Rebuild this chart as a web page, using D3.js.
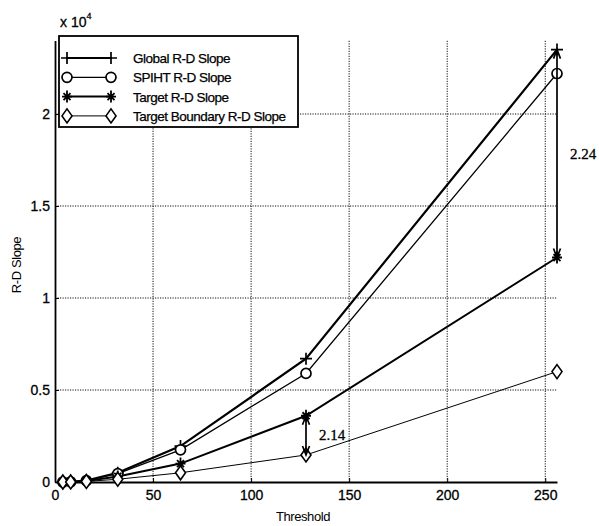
<!DOCTYPE html>
<html>
<head>
<meta charset="utf-8">
<script src="https://cdn.jsdelivr.net/npm/d3@7"></script>
<style>
  body { margin: 0; background: #fff; }
  svg { display: block; font-family: "Liberation Sans", Arial, sans-serif; }
</style>
</head>
<body>
<div id="chart"></div>
<script>
// thresholds (x) and the four R-D slope series (raw values, axis shows x 10^4)
const thresholds = [4, 8, 16, 32, 64, 128, 256];
const globalSlope = [0, 5, 80, 500, 1950, 6700, 23500];
const spihtSlope = [0, 5, 70, 450, 1750, 5900, 22200];
const targetSlope = [0, 3, 50, 300, 1000, 3600, 12200];
const boundarySlope = [0, 2, 30, 150, 500, 1470, 6000];

const xTicks = [0, 50, 100, 150, 200, 250];
const yTicks = [0, 5000, 10000, 15000, 20000];
const yTickLabels = ["0", "0.5", "1", "1.5", "2"];

const seriesNames = ["Global R-D Slope", "SPIHT R-D Slope", "Target R-D Slope", "Target Boundary R-D Slope"];
const seriesValues = [globalSlope, spihtSlope, targetSlope, boundarySlope];
const seriesMarkers = ["plus", "circle", "star", "diamond"];
const seriesWidths = [2.2, 1.3, 2, 1];

// ratio annotations: [threshold, upper series index, lower series index, label]
const annotations = [[128, 2, 3, "2.14"], [256, 0, 2, "2.24"]];

const width = 599, height = 526;
const svg = d3.select("#chart").append("svg")
  .attr("width", width)
  .attr("height", height);

const x = d3.scaleLinear().domain([0, 256]).range([55, 557]);
const y = d3.scaleLinear().domain([0, 24000]).range([482, 40.4]);

// grid lines (dotted)
const grid = svg.append("g").attr("stroke", "#111").attr("stroke-width", 1)
  .attr("stroke-dasharray", "1.2,1.3");
grid.selectAll("line.v").data(xTicks.slice(1)).enter().append("line")
  .attr("x1", d => x(d)).attr("x2", d => x(d))
  .attr("y1", y(0)).attr("y2", y(24000));
grid.selectAll("line.h").data(yTicks.slice(1)).enter().append("line")
  .attr("x1", x(0)).attr("x2", x(256))
  .attr("y1", d => y(d)).attr("y2", d => y(d));

// axes
const xAxis = svg.append("g")
  .attr("transform", `translate(0,${y(0)})`)
  .call(d3.axisBottom(x).tickValues(xTicks).tickSizeInner(-4).tickSizeOuter(0).tickPadding(8));
const yAxis = svg.append("g")
  .attr("transform", `translate(${x(0)},0)`)
  .call(d3.axisLeft(y).tickValues(yTicks).tickFormat((d, i) => yTickLabels[i])
    .tickSizeInner(-4).tickSizeOuter(0).tickPadding(5));
[xAxis, yAxis].forEach(a => {
  a.select(".domain").attr("stroke", "#000").attr("stroke-width", 1.8);
  a.selectAll(".tick line").attr("stroke", "#000");
  a.selectAll("text").attr("font-size", 14).attr("fill", "#000")
    .attr("stroke", "#000").attr("stroke-width", 0.3)
    .attr("font-family", "Liberation Sans, Arial, sans-serif");
});

// exponent label
const expo = svg.append("text").attr("x", 60).attr("y", 27)
  .attr("font-size", 14).attr("fill", "#000").attr("stroke", "#000").attr("stroke-width", 0.3);
expo.append("tspan").text("x 10");
expo.append("tspan").attr("dy", -8).attr("font-size", 9).text("4");

// axis titles
svg.append("text").attr("x", 303).attr("y", 521)
  .attr("text-anchor", "middle").attr("font-size", 13).attr("fill", "#000")
  .attr("letter-spacing", -0.4).text("Threshold");
svg.append("text").attr("transform", "translate(21,265) rotate(-90)")
  .attr("text-anchor", "middle").attr("font-size", 13).attr("fill", "#000")
  .attr("letter-spacing", -0.4).text("R-D Slope");

// marker drawing
function drawMarker(g, type, cx, cy) {
  if (type === "plus") {
    g.append("path").attr("d", `M${cx - 6},${cy}H${cx + 6}M${cx},${cy - 6}V${cy + 6}`)
      .attr("stroke", "#000").attr("stroke-width", 1.7).attr("fill", "none");
  } else if (type === "circle") {
    g.append("circle").attr("cx", cx).attr("cy", cy).attr("r", 5)
      .attr("stroke", "#000").attr("stroke-width", 1.7).attr("fill", "#fff");
  } else if (type === "star") {
    g.append("path")
      .attr("d", `M${cx - 5},${cy}H${cx + 5}M${cx},${cy - 6}V${cy + 6}M${cx - 3.5},${cy - 3.5}L${cx + 3.5},${cy + 3.5}M${cx - 3.5},${cy + 3.5}L${cx + 3.5},${cy - 3.5}`)
      .attr("stroke", "#000").attr("stroke-width", 1.8).attr("fill", "none");
  } else if (type === "diamond") {
    g.append("path").attr("d", `M${cx},${cy - 7}L${cx + 5},${cy}L${cx},${cy + 7}L${cx - 5},${cy}Z`)
      .attr("stroke", "#000").attr("stroke-width", 1.6).attr("fill", "#fff");
  }
}

// series lines and markers
const line = d3.line().x(d => x(d[0])).y(d => y(d[1]));
seriesValues.forEach((vals, i) => {
  const pts = thresholds.map((t, j) => [t, vals[j]]);
  svg.append("path").datum(pts).attr("d", line)
    .attr("fill", "none").attr("stroke", "#000").attr("stroke-width", seriesWidths[i]);
});
seriesValues.forEach((vals, i) => {
  const g = svg.append("g");
  thresholds.forEach((t, j) => drawMarker(g, seriesMarkers[i], x(t), y(vals[j])));
});

// ratio annotations (double-headed arrows)
annotations.forEach(a => {
  const ax = x(a[0]);
  const idx = thresholds.indexOf(a[0]);
  const y1 = y(seriesValues[a[1]][idx]);
  const y2 = y(seriesValues[a[2]][idx]);
  svg.append("path")
    .attr("d", `M${ax},${y1}V${y2}M${ax - 3.5},${y1 + 9}L${ax},${y1}L${ax + 3.5},${y1 + 9}M${ax - 3.5},${y2 - 9}L${ax},${y2}L${ax + 3.5},${y2 - 9}`)
    .attr("fill", "none").attr("stroke", "#000").attr("stroke-width", 1.7);
  svg.append("text").attr("x", ax + 13).attr("y", (y1 + y2) / 2 + 5)
    .attr("font-family", "Liberation Serif, Times New Roman, serif")
    .attr("font-size", 15).attr("fill", "#000").attr("stroke", "#000").attr("stroke-width", 0.3)
    .text(a[3]);
});

// legend
const legend = svg.append("g");
legend.append("rect").attr("x", 59).attr("y", 36).attr("width", 239).attr("height", 91)
  .attr("fill", "#fff").attr("stroke", "#000").attr("stroke-width", 1.8);
seriesNames.forEach((name, i) => {
  const ly = 58 + i * 19.3;
  legend.append("line").attr("x1", 66).attr("x2", 112).attr("y1", ly).attr("y2", ly)
    .attr("stroke", "#000").attr("stroke-width", seriesWidths[i]);
  drawMarker(legend, seriesMarkers[i], 67, ly);
  drawMarker(legend, seriesMarkers[i], 111, ly);
  legend.append("text").attr("x", 133).attr("y", ly + 5)
    .attr("font-size", 13.5).attr("fill", "#000").attr("stroke", "#000").attr("stroke-width", 0.25)
    .attr("letter-spacing", -0.5).text(name);
});
</script>
</body>
</html>
